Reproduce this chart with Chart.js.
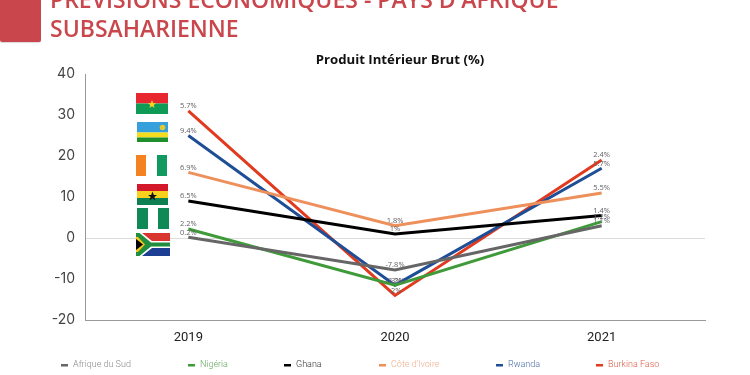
<!DOCTYPE html>
<html>
<head>
<meta charset="utf-8">
<script src="https://cdn.jsdelivr.net/npm/chart.js@4"></script>
<style>
    html, body { margin: 0; padding: 0; background: #fff; }
    body { width: 750px; height: 375px; position: relative; overflow: hidden; font-family: "Open Sans", sans-serif; }
    #pibChart { position: absolute; left: 0; top: 0; }
    #tab { position: absolute; left: 0; top: -5px; width: 41px; height: 47px; background: #c9474c; border-radius: 2px; box-shadow: 0 1px 1px rgba(0,0,0,0.15); }
    .heading { position: absolute; left: 50px; color: #c9474c; font-weight: 600; font-size: 23px; line-height: 28px; white-space: nowrap; }
    #chart-title { position: absolute; left: 250px; width: 300px; top: 50px; text-align: center; color: #111; font-weight: 700; font-size: 13.2px; line-height: 18px; }
    .flag { position: absolute; }
</style>
</head>
<body>
<canvas id="pibChart" width="750" height="375"></canvas>
<div id="tab"></div>
<div class="heading" style="top:-15px">PRÉVISIONS ÉCONOMIQUES - PAYS D'AFRIQUE</div>
<div class="heading" style="top:14px">SUBSAHARIENNE</div>
<div id="chart-title">Produit Intérieur Brut (%)</div>

<!-- Burkina Faso -->
<svg class="flag" style="left:136px;top:93px" width="32" height="21" viewBox="0 0 32 21">
    <rect width="32" height="10.5" fill="#e8262f"/><rect y="10.5" width="32" height="10.5" fill="#0f9a56"/>
    <polygon points="16,7 17.2,10 20,10.3 17.8,12 18.5,15 16,13.3 13.5,15 14.2,12 12,10.3 14.8,10" fill="#f5d328"/>
</svg>
<!-- Rwanda -->
<svg class="flag" style="left:137px;top:122px" width="31" height="20" viewBox="0 0 31 20">
    <rect width="31" height="10.5" fill="#36a0dc"/><rect y="10.5" width="31" height="5" fill="#f5dc1c"/><rect y="15.5" width="31" height="4.5" fill="#1f8f2d"/>
    <circle cx="25.5" cy="5.5" r="2.8" fill="#e5c92c"/>
</svg>
<!-- Côte d'Ivoire -->
<svg class="flag" style="left:136px;top:155px" width="31" height="21" viewBox="0 0 31 21">
    <rect width="10" height="21" fill="#f58220"/><rect x="21" width="10" height="21" fill="#119a5f"/>
</svg>
<!-- Ghana -->
<svg class="flag" style="left:137px;top:184px" width="31" height="21" viewBox="0 0 31 21">
    <rect width="31" height="7" fill="#d3182c"/><rect y="7" width="31" height="7" fill="#f7d11e"/><rect y="14" width="31" height="7" fill="#0d7f51"/>
    <polygon points="15.5,7.5 16.8,11 20,11 17.4,13 18.4,16.5 15.5,14.3 12.6,16.5 13.6,13 11,11 14.2,11" fill="#111"/>
</svg>
<!-- Nigéria -->
<svg class="flag" style="left:137px;top:208px" width="32" height="21" viewBox="0 0 32 21">
    <rect width="11" height="21" fill="#0f8a56"/><rect x="21" width="11" height="21" fill="#0f8a56"/>
</svg>
<!-- Afrique du Sud -->
<svg class="flag" style="left:136px;top:233px" width="34" height="23" viewBox="0 0 34 23">
    <rect width="34" height="11.5" fill="#d9352f"/><rect y="11.5" width="34" height="11.5" fill="#1c3f94"/>
    <polygon points="0,0 6,0 16,8 34,8 34,15 16,15 6,23 0,23" fill="#fff"/>
    <polygon points="0,0 3.5,0 15,9.5 34,9.5 34,13.5 15,13.5 3.5,23 0,23" fill="#1f8f3f"/>
    <polygon points="0,4 2,4 9,11.5 2,19 0,19" fill="#f5c518"/>
    <polygon points="0,6 7,11.5 0,17" fill="#000"/>
</svg>

<script>
// values
const years = ['2019', '2020', '2021'];
const yTicks = [40, 30, 20, 10, 0, -10, -20];

const afriqueDuSud = [0.2, -7.8, 3];
const nigeria = [2.2, -11.5, 4];
const ghana = [9, 1, 5.5];
const coteDivoire = [16, 3, 11];
const rwanda = [25, -11.5, 17];
const burkinaFaso = [31, -14, 19];

// the labels printed on the points, they do not follow the line heights
const afriqueLabels = ['0.2%', '-7.8%', '1.1%'];
const nigeriaLabels = ['2.2%', '-3%', '1.2%'];
const ghanaLabels = ['6.5%', '1%', '1.4%'];
const coteLabels = ['6.9%', '1.8%', '5.5%'];
const rwandaLabels = ['9.4%', '-3.2%', '5.7%'];
const burkinaLabels = ['5.7%', '-2%', '2.4%'];

const legendStarts = [61, 188, 284, 379, 496, 596];

function makeDataset(label, data, pointLabels, color, legendColor) {
    return {
        label: label,
        data: data,
        pointLabels: pointLabels,
        legendColor: legendColor,
        borderColor: color,
        backgroundColor: color,
        borderWidth: 3,
        pointRadius: 0,
        tension: 0
    };
}

const pointLabelPlugin = {
    id: 'pointLabels',
    afterDatasetsDraw(chart) {
        const ctx = chart.ctx;
        ctx.save();
        ctx.font = '7.5px "Open Sans"';
        ctx.fillStyle = '#5f5f66';
        ctx.textAlign = 'center';
        ctx.textBaseline = 'bottom';
        chart.data.datasets.forEach((dataset, i) => {
            chart.getDatasetMeta(i).data.forEach((point, j) => {
                ctx.fillText(dataset.pointLabels[j], point.x, point.y - 1);
            });
        });
        ctx.restore();
    }
};

// legend entries are spread out under the plot, coloured text with a small dash
const legendPlugin = {
    id: 'spacedLegend',
    afterDraw(chart) {
        const ctx = chart.ctx;
        ctx.save();
        ctx.font = '300 9px Roboto';
        ctx.textBaseline = 'middle';
        chart.data.datasets.forEach((dataset, i) => {
            const x = legendStarts[i];
            ctx.fillStyle = dataset.borderColor;
            ctx.fillRect(x, 364, 7, 2.5);
            ctx.fillStyle = dataset.legendColor;
            ctx.fillText(dataset.label, x + 12, 365);
        });
        ctx.restore();
    }
};

new Chart(document.getElementById('pibChart').getContext('2d'), {
    type: 'line',
    data: {
        labels: years,
        datasets: [
            makeDataset('Afrique du Sud', afriqueDuSud, afriqueLabels, '#666666', '#8a8a8a'),
            makeDataset('Nigéria', nigeria, nigeriaLabels, '#3f9b3a', '#62a85e'),
            makeDataset('Ghana', ghana, ghanaLabels, '#000000', '#333333'),
            makeDataset("Côte d'Ivoire", coteDivoire, coteLabels, '#ee905c', '#eeb08c'),
            makeDataset('Rwanda', rwanda, rwandaLabels, '#1f4e96', '#4a6ea6'),
            makeDataset('Burkina Faso', burkinaFaso, burkinaLabels, '#e23a1e', '#d9604a')
        ]
    },
    plugins: [pointLabelPlugin, legendPlugin],
    options: {
        responsive: false,
        animation: false,
        layout: { padding: { left: 0, right: 45, top: 74, bottom: 0 } },
        plugins: {
            legend: { display: false },
            tooltip: { enabled: false },
            title: { display: false }
        },
        scales: {
            x: {
                offset: true,
                afterFit(axis) { axis.height = 55; },
                grid: { display: false, offset: true },
                border: { display: true, color: '#999', width: 1 },
                ticks: { color: '#222', font: { family: 'Roboto', size: 13 }, padding: 2 }
            },
            y: {
                min: -20,
                max: 40,
                afterBuildTicks(axis) { axis.ticks = yTicks.map(v => ({ value: v })); },
                afterFit(axis) { axis.width = 85; },
                border: { display: true, color: '#999', width: 1 },
                grid: {
                    drawTicks: false,
                    color: ctx => (ctx.tick.value === 0 ? '#dcdcdc' : 'rgba(0,0,0,0)')
                },
                ticks: { color: '#444', font: { family: 'Inter', size: 14 }, padding: 10 }
            }
        }
    }
});
</script>
</body>
</html>
